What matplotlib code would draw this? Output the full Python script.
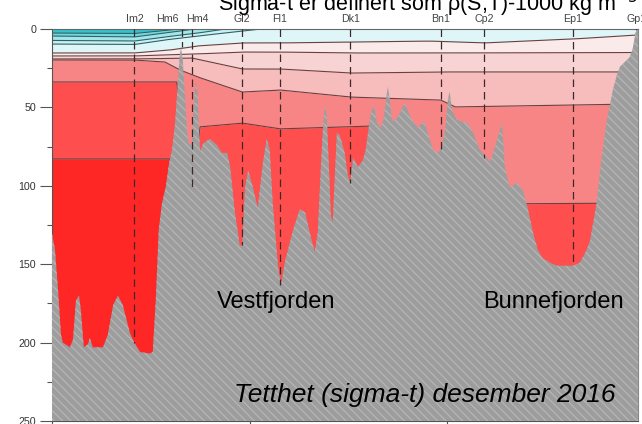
import numpy as np
import matplotlib
matplotlib.use('Agg')
import matplotlib.pyplot as plt

plt.rcParams['font.family'] = ['Liberation Sans', 'DejaVu Sans']
plt.rcParams['hatch.linewidth'] = 0.9

# distance along section (km) and bottom depth (m)
bottom_km = [0, 0.5, 1.0, 1.5, 1.8, 3.0, 3.5, 4.0, 4.5, 4.8, 5.3, 6.0, 6.3, 6.8, 8.5, 9.3, 10.2, 11.0,
             11.8, 13.0, 13.7, 14.7, 16.3, 16.8, 17.3, 17.8, 18.3, 19.0, 19.5, 20.0, 20.5, 21.0, 21.3,
             21.5, 21.8, 22.2, 22.5, 22.8, 23.3, 23.5, 23.8, 24.0, 24.3, 24.5, 24.7, 25.2, 26.3, 27.5,
             28.3, 29.2, 29.7, 30.5, 31.3, 31.7, 32.2, 32.7, 33.5, 34.3, 35.2, 35.8, 36.3, 36.8, 37.7,
             38.2, 38.8, 40.2, 41.3, 42.2, 43.3, 43.8, 44.3, 44.8, 45.2, 45.5, 45.8, 46.2, 46.5, 46.8,
             47.2, 47.5, 48.0, 48.8, 49.3, 49.7, 50.2, 51.0, 51.8, 52.3, 52.8, 53.2, 53.7, 54.2, 54.8,
             55.3, 55.8, 56.0, 56.3, 56.7, 57.5, 58.2, 58.8, 59.3, 60.0, 61.0, 62.0, 62.8, 63.5, 64.3,
             64.8, 65.5, 66.0, 66.3, 66.7, 67.5, 68.3, 69.2, 70.2, 71.3, 72.5, 73.0, 73.8, 74.7, 75.0,
             75.5, 76.3, 77.5, 78.5, 79.3, 80.2, 81.0, 81.8, 83.0, 84.2, 86.8, 88.0, 89.0, 89.7, 90.3,
             90.8, 91.3, 91.8, 92.5, 93.0, 93.5, 94.2, 94.7, 95.5, 96.3, 96.8, 97.3, 97.7]
bottom_m = [130, 141, 166, 195, 200, 203, 198, 173, 170, 179, 203, 201, 197, 203, 203, 195, 176, 170,
            176, 194, 200, 206, 207, 206, 173, 128, 112, 100, 86, 77, 61, 33, 17,
            11.5, 20, 45, 64, 73, 74, 61, 39, 34, 42, 64, 78, 73, 70, 74,
            79, 79, 88, 117, 138, 138, 101, 90, 101, 114, 84, 70, 77, 111, 152,
            163, 149, 128, 115, 117, 135, 142, 130, 90, 61, 49, 55, 90, 119, 123,
            90, 66, 68, 79, 93, 98, 82, 88, 84, 77, 63, 53, 49, 60, 63,
            57, 42, 37, 45, 59, 57, 52, 47, 52, 58, 63, 59, 68, 77, 79,
            77, 66, 45, 40, 52, 58, 59, 60, 66, 77, 82, 85, 76, 64, 60,
            88, 101, 98, 103, 114, 130, 141, 146, 149, 151, 151, 149, 142, 135, 122,
            111, 93, 77, 58, 49, 39, 29, 24, 21, 18, 13, 2, 0.6]

# sigma-t layer interfaces (depth of lower boundary of each class)
if0_km = [0, 13.7, 18.0, 21.3, 97.7]
if0_m = [2.6, 2.9, 1.3, 0, 0]
if1_km = [0, 13.7, 18.8, 23.8, 97.7]
if1_m = [4.5, 5.1, 2.6, 0, 0]
if2_km = [0, 13.7, 18.8, 24.3, 28.8, 97.7]
if2_m = [7.3, 7.7, 5.1, 2.6, 0, 0]
if3_km = [0, 13.7, 18.8, 24.3, 31.7, 34.7, 97.7]
if3_m = [9.6, 9.9, 7.0, 4.5, 1.3, 0, 0]
if4_km = [0, 13.7, 19.7, 24.3, 31.7, 38.0, 49.7, 63.0, 72.0, 86.8, 97.7]
if4_m = [15.3, 15.3, 13.4, 10.8, 8.9, 8.9, 8.3, 7.7, 8.9, 6.4, 3.8]
if5_km = [0, 13.7, 24.3, 31.7, 38.0, 49.7, 64.8, 97.7]
if5_m = [17.2, 17.2, 15.9, 14.7, 14.7, 15.3, 15.3, 15.0]
if6_km = [0, 13.7, 23.3, 31.7, 38.0, 49.7, 64.8, 97.7]
if6_m = [19.1, 19.1, 18.5, 25.5, 25.5, 28.1, 27.4, 27.4]
if7_km = [0, 13.7, 18.8, 21.3, 24.3, 31.7, 38.0, 49.7, 64.8, 67.2, 86.8, 97.7]
if7_m = [19.8, 19.8, 21.0, 26.1, 30.6, 40.2, 38.9, 43.4, 45.3, 49.7, 48.5, 47.8]
if8_km = [0, 20.8, 22.3, 24.3, 24.7, 31.7, 38.0, 53.0, 54.0, 54.5, 97.7]
if8_m = [33.8, 33.8, 75, 75, 62.4, 60.0, 63.7, 61.9, 75, 112, 111]
if9_km = [0, 19.7, 21.0, 97.7]
if9_m = [82.9, 82.9, 300, 300]

layer_colors = ['#35c3cb', '#72d6dc', '#a4e5e9', '#c9f0f2', '#def6f7', '#faeaea',
                '#f8d3d3', '#f7bcbc', '#f88585', '#ff4e4e', '#ff2626']

stations = ['Im2', 'Hm6', 'Hm4', 'Gl2', 'Fl1', 'Dk1', 'Bn1', 'Cp2', 'Ep1', 'Gp1']
station_km = [13.7, 21.7, 23.3, 31.7, 38.0, 49.7, 64.8, 72.0, 86.8, 97.3]
station_depth = [200, 11.5, 101, 138, 163, 98, 78, 82, 149, 0.6]
label_km = [13.8, 19.3, 24.2, 31.7, 38.0, 49.7, 64.7, 72.0, 86.8, 97.5]

fig = plt.figure(figsize=(6.42, 4.24), dpi=100)
ax = fig.add_axes([52/642, 3/424, 586/642, 392/424])

xg = np.linspace(0, 97.7, 3000)
ifaces = [(if0_km, if0_m), (if1_km, if1_m), (if2_km, if2_m), (if3_km, if3_m), (if4_km, if4_m),
          (if5_km, if5_m), (if6_km, if6_m), (if7_km, if7_m), (if8_km, if8_m), (if9_km, if9_m)]
lines = [np.interp(xg, k, m) for k, m in ifaces]

top = np.zeros_like(xg)
for i, c in enumerate(layer_colors):
    bot = lines[i] if i < len(lines) else np.full_like(xg, 300)
    bot = np.maximum(bot, top)
    ax.fill_between(xg, top, bot, color=c, linewidth=0, zorder=1)
    top = bot

for i, l in enumerate(lines):
    col = '#2e6468' if i < 4 else '#6a4040'
    ax.plot(xg, l, color=col, lw=0.8, zorder=2)

# bathymetry
ax.fill_between(bottom_km, bottom_m, 260, facecolor='#9d9d9d', edgecolor='#b6b6b6',
                hatch='\\\\\\\\', linewidth=0, zorder=3)

for s, k, d, lk in zip(stations, station_km, station_depth, label_km):
    ax.plot([k, k], [0, d], color='#402828', lw=0.9, dashes=(6, 4), zorder=4)
    ax.text(lk, -6.5, s, ha='center', va='center', fontsize=7.7, color='#444444', clip_on=False)

ax.text(27.5, 178, 'Vestfjorden', fontsize=17, color='black', zorder=5)
ax.text(71.8, 178, 'Bunnefjorden', fontsize=17, color='black', zorder=5)
ax.text(30.3, 238, 'Tetthet (sigma-t) desember 2016', fontsize=19, style='italic', color='black', zorder=5)

fig.text(218/642, (424-11)/424, r'Sigma-t er definert som ρ(S,T)-1000 kg m$^{-3}$',
         fontsize=15.5, color='black', va='baseline', ha='left')

ax.set_xlim(0, 97.7)
ax.set_ylim(250, 0)
ax.set_yticks([0, 50, 100, 150, 200, 250])
ax.set_yticks([25, 75, 125, 175, 225], minor=True)
ax.set_xticks([0, 33, 65.8])
ax.set_xticklabels([])
ax.tick_params(axis='y', which='major', length=8.5, width=0.8, color='#555555',
               labelsize=7.7, labelcolor='#333333', pad=3)
ax.tick_params(axis='y', which='minor', length=3.6, width=0.8, color='#555555')
ax.tick_params(axis='x', length=6, width=0.8, color='#555555')
ax.spines['left'].set_bounds(0, 208)
ax.spines['left'].set_color('#555555')
ax.spines['bottom'].set_color('#555555')
ax.spines['right'].set_color('#888888')
ax.spines['top'].set_color('#666666')
for sp in ax.spines.values():
    sp.set_linewidth(0.8)

fig.savefig('out.png', dpi=100)
